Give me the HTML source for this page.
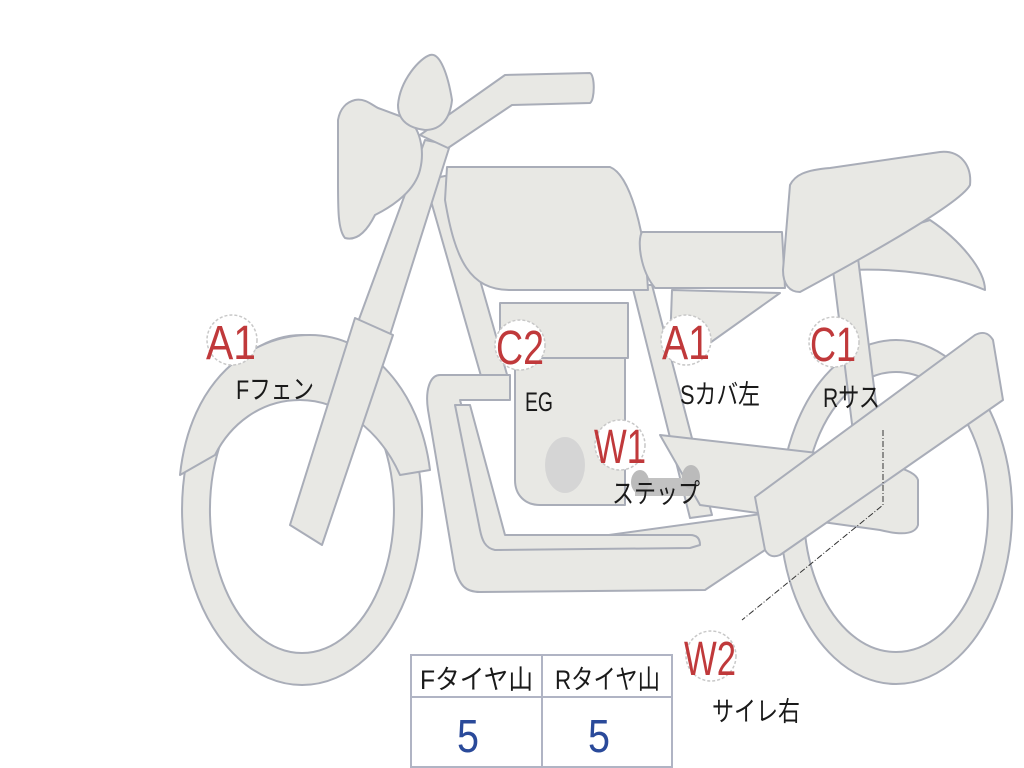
<!DOCTYPE html>
<html><head><meta charset="utf-8"><style>
html,body{margin:0;padding:0;background:#fff;width:1024px;height:768px;overflow:hidden}
svg{display:block}
.p{fill:#e8e8e4;stroke:#a9adb8;stroke-width:2;stroke-linejoin:round}
.lb{font-family:"Liberation Sans","Noto Sans CJK JP",sans-serif;fill:#c0393b;font-size:48px}
.tx{font-family:"Liberation Sans","Noto Sans CJK JP",sans-serif;fill:#1a1a1a;font-size:27px}
.c{fill:#fff;stroke:#c8c8c8;stroke-width:1.5;stroke-dasharray:3 2}
</style></head><body>
<svg width="1024" height="768" viewBox="0 0 1024 768">
<path class="p" fill-rule="evenodd" d="M302,335 a120,175 0 1,0 0.1,0 Z M302,367 a92,143 0 1,1 -0.1,0 Z"/>
<path class="p" fill-rule="evenodd" d="M896,340 a116,172 0 1,0 0.1,0 Z M896,372 a92,140 0 1,1 -0.1,0 Z"/>
<path class="p" d="M180,475 C190,380 250,335 310,335 C370,335 420,390 430,470 L400,475 C380,430 340,400 300,400 C260,400 230,425 215,455 Z"/>
<path class="p" d="M850,245 L930,220 C960,240 985,270 985,290 C950,275 900,268 850,270 Z"/>
<path class="p" d="M832,262 L858,258 L888,500 L862,505 Z"/>
<path class="p" d="M425,180 L450,175 L510,385 L485,390 Z"/>
<path class="p" d="M632,285 L652,285 L712,515 L690,518 Z"/>
<path class="p" d="M660,435 L835,455 C880,462 915,468 918,480 L918,525 C915,535 900,535 880,530 L700,505 Z"/>
<path class="p" d="M440,375 L510,375 L510,400 L460,400 L500,550 L790,510 L795,530 L705,590 L480,592 C465,592 460,585 455,570 L428,410 C425,390 430,375 440,375 Z"/>
<path class="p" d="M455,405 L470,405 L505,535 L690,535 C698,535 700,540 700,545 L690,548 L495,550 C485,548 482,540 480,530 Z"/>
<path class="p" d="M515,358 L625,358 L625,505 L540,505 C525,505 515,495 515,480 Z"/>
<rect class="p" x="500" y="303" width="128" height="55"/>
<ellipse cx="565" cy="465" rx="20" ry="28" fill="#d5d5d5"/>
<rect x="635" y="478" width="60" height="18" fill="#c2c2c2"/>
<ellipse cx="640" cy="482" rx="9" ry="12" fill="#bbb"/>
<ellipse cx="691" cy="477" rx="9" ry="12" fill="#bbb"/>
<path class="p" d="M447,167 L610,167 C630,175 645,230 648,290 L510,290 C470,290 455,260 445,200 Z"/>
<path class="p" d="M672,290 L780,293 L700,350 L670,345 Z"/>
<path class="p" d="M642,232 L782,232 L785,288 L655,288 C640,270 637,240 642,232 Z"/>
<path class="p" d="M790,185 C795,175 805,170 830,168 L940,152 C960,150 972,165 970,185 C960,205 850,265 800,292 C790,292 783,285 783,270 Z"/>
<path class="p" d="M755,497 L975,335 C985,330 990,335 993,340 L1003,400 L780,555 C772,558 768,555 765,550 Z"/>
<path class="p" d="M425,140 L450,145 L390,335 L358,322 Z"/>
<path class="p" d="M355,318 L393,335 L322,545 L290,525 Z"/>
<path class="p" d="M355,100 C365,98 372,105 378,108 L405,118 C420,125 425,150 420,170 C415,190 395,205 375,215 C370,225 360,242 345,238 C338,230 338,210 338,180 L338,120 C340,108 347,102 355,100 Z"/>
<path class="p" d="M420,135 L505,75 L590,73 C595,75 595,100 590,103 L512,105 L448,148 Z"/>
<path class="p" d="M430,55 C440,52 448,75 452,100 C450,120 440,130 425,130 C408,128 398,120 398,105 C400,80 420,58 430,55 Z"/>
<path d="M883,430 L883,505 L742,620" fill="none" stroke="#333" stroke-width="1" stroke-dasharray="6 2 1 2"/>
<circle class="c" cx="232" cy="340" r="25"/>
<text class="lb" x="206" y="359" textLength="50" lengthAdjust="spacingAndGlyphs">A1</text>
<circle class="c" cx="520" cy="345" r="25"/>
<text class="lb" x="496" y="364" textLength="48" lengthAdjust="spacingAndGlyphs">C2</text>
<circle class="c" cx="686" cy="340" r="25"/>
<text class="lb" x="662" y="359" textLength="48" lengthAdjust="spacingAndGlyphs">A1</text>
<circle class="c" cx="834" cy="342" r="25"/>
<text class="lb" x="810" y="361" textLength="46" lengthAdjust="spacingAndGlyphs">C1</text>
<circle class="c" cx="620" cy="445" r="25"/>
<text class="lb" x="594" y="463" textLength="52" lengthAdjust="spacingAndGlyphs">W1</text>
<circle class="c" cx="711" cy="656" r="25"/>
<text class="lb" x="684" y="675" textLength="52" lengthAdjust="spacingAndGlyphs">W2</text>
<text class="tx" x="236" y="399" textLength="78" lengthAdjust="spacingAndGlyphs">Fフェン</text>
<text class="tx" x="525" y="411" textLength="28" lengthAdjust="spacingAndGlyphs">EG</text>
<text class="tx" x="680" y="404" textLength="80" lengthAdjust="spacingAndGlyphs">Sカバ左</text>
<text class="tx" x="823" y="407" textLength="57" lengthAdjust="spacingAndGlyphs">Rサス</text>
<text class="tx" x="612" y="503" textLength="88" lengthAdjust="spacingAndGlyphs">ステップ</text>
<text class="tx" x="712" y="721" textLength="88" lengthAdjust="spacingAndGlyphs">サイレ右</text>
<g fill="none" stroke="#b0b4c4" stroke-width="2">
<rect x="411" y="655" width="261" height="112"/>
<line x1="411" y1="697" x2="672" y2="697"/>
<line x1="542" y1="655" x2="542" y2="767"/>
</g>
<text class="tx" x="420" y="689" textLength="113" lengthAdjust="spacingAndGlyphs">Fタイヤ山</text>
<text class="tx" x="555" y="689" textLength="105" lengthAdjust="spacingAndGlyphs">Rタイヤ山</text>
<text x="457" y="752" font-family="Liberation Sans,sans-serif" font-size="46" fill="#2a4a9a" textLength="22" lengthAdjust="spacingAndGlyphs">5</text>
<text x="588" y="752" font-family="Liberation Sans,sans-serif" font-size="46" fill="#2a4a9a" textLength="22" lengthAdjust="spacingAndGlyphs">5</text>
</svg>
</body></html>
